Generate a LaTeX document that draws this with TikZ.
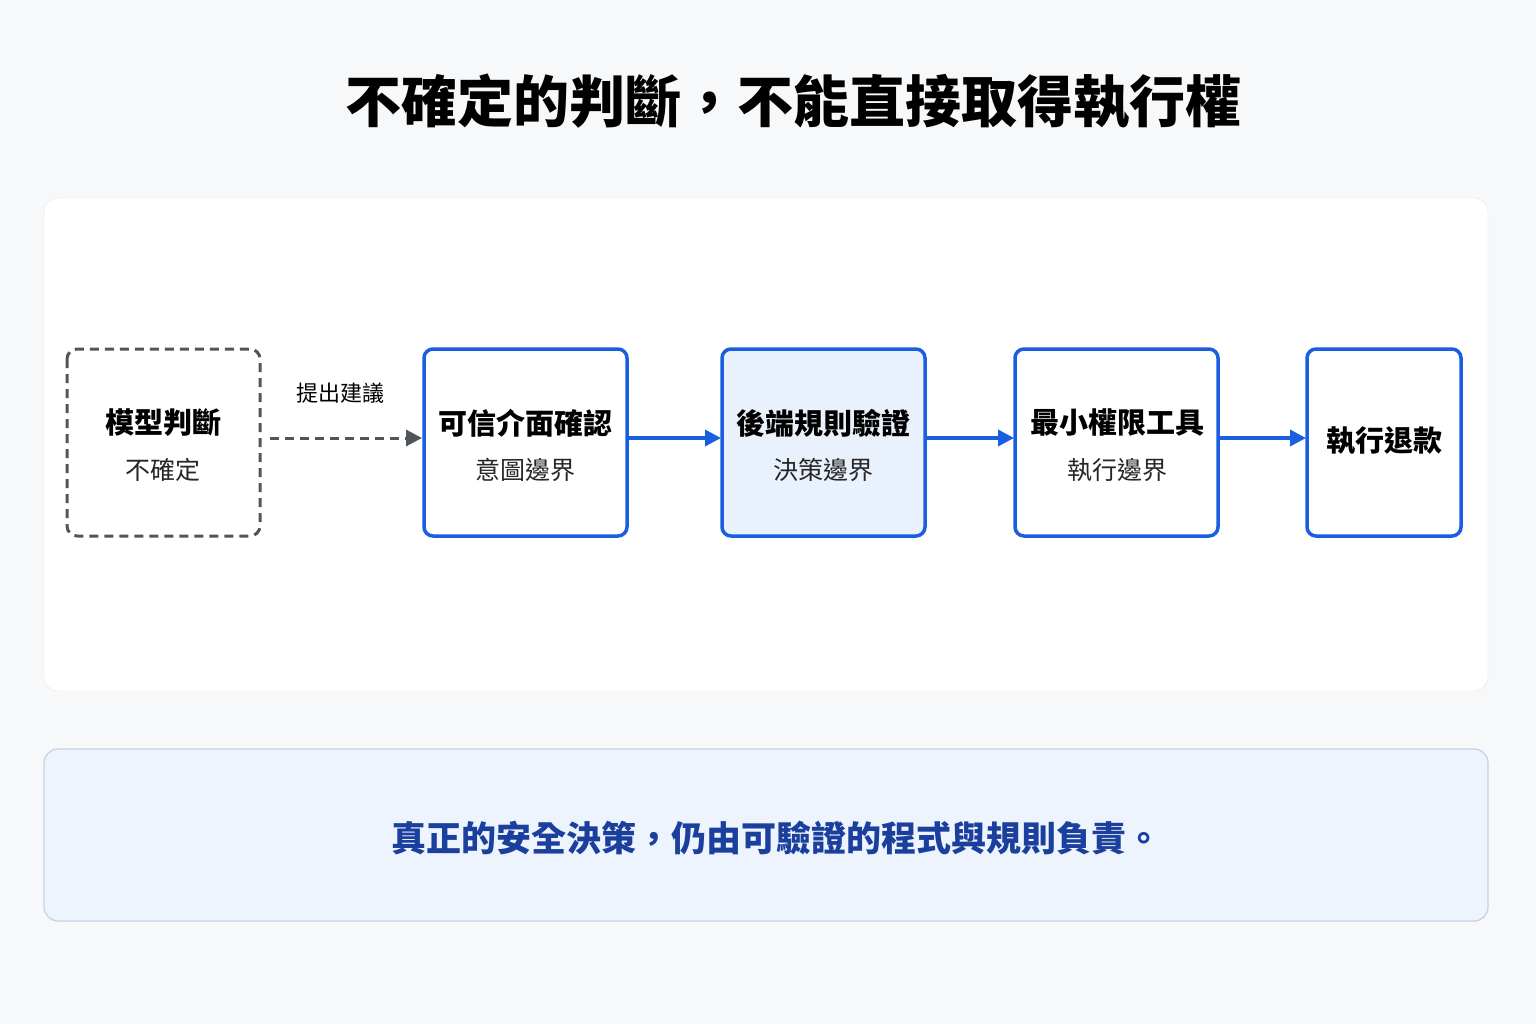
\documentclass[tikz,border=0pt]{standalone}
\usepackage{fontspec}
\setmainfont{Noto Sans CJK TC}
\usetikzlibrary{arrows.meta}
\definecolor{bg}{HTML}{F7F8FA}
\definecolor{bl}{HTML}{1A5FE0}
\definecolor{lb}{HTML}{E9F1FD}
\definecolor{nb}{HTML}{1B3F9C}
\definecolor{gr}{HTML}{50555C}
\begin{document}
\begin{tikzpicture}[x=1pt,y=-1pt,
 box/.style={draw=bl,line width=3.5pt,rounded corners=9pt,fill=white,anchor=north west,inner sep=0pt},
 t/.style={font=\bfseries\fontsize{29}{34}\selectfont,text=black},
 s/.style={font=\fontsize{25}{30}\selectfont,text=black!85},
 arr/.style={-{Triangle[length=16pt,width=16pt]},line width=3.5pt,draw=bl}]
\useasboundingbox (0,0) rectangle (1536,1024);
\fill[bg] (0,0) rectangle (1536,1024);
\node[font=\bfseries\fontsize{56}{64}\selectfont] (title) at (793,102) {不確定的判斷，不能直接取得執行權};
\draw[black!10,fill=white,rounded corners=14pt] (44,198) rectangle (1488,691);
\node (card) at (766,445) {};
% boxes
\draw[gr,line width=3pt,dash pattern=on 9pt off 6pt,rounded corners=10pt] (67,349) rectangle (260,536);
\coordinate (b1e) at (262,438);
\node[t] (b1t) at (163,423) {模型判斷};
\node[s] (b1s) at (163,470) {不確定};
\draw[box] (424,349) rectangle (627,536);
\node[t] (b2t) at (525,423) {可信介面確認};
\node[s] (b2s) at (525,470) {意圖邊界};
\draw[box,fill=lb] (722,349) rectangle (925,536);
\node[t] (b3t) at (823,423) {後端規則驗證};
\node[s] (b3s) at (823,470) {決策邊界};
\draw[box] (1015,349) rectangle (1218,536);
\node[t] (b4t) at (1117,423) {最小權限工具};
\node[s] (b4s) at (1117,470) {執行邊界};
\draw[box] (1307,349) rectangle (1461,536);
\node[t] (b5t) at (1384,441) {執行退款};
\coordinate (a1s) at (270,438); \coordinate (a1e) at (422,438);
\coordinate (a2s) at (629,438); \coordinate (a2e) at (721,438);
\coordinate (a3s) at (927,438); \coordinate (a3e) at (1014,438);
\coordinate (a4s) at (1220,438); \coordinate (a4e) at (1306,438);
\draw[gr,line width=3pt,dash pattern=on 9pt off 6pt,-{Triangle[length=16pt,width=16pt]}] (a1s) -- (a1e);
\node[font=\fontsize{22}{26}\selectfont] (lab) at (340,393) {提出建議};
\draw[arr] (a2s) -- (a2e);
\draw[arr] (a3s) -- (a3e);
\draw[arr] (a4s) -- (a4e);
% bottom
\draw[draw=nb!25,fill=lb!80,line width=1.2pt,rounded corners=14pt] (44,749) rectangle (1488,921);
\node[font=\bfseries\fontsize{35}{40}\selectfont,text=nb] (note) at (776,838) {真正的安全決策，仍由可驗證的程式與規則負責。};
\end{tikzpicture}
\end{document}
